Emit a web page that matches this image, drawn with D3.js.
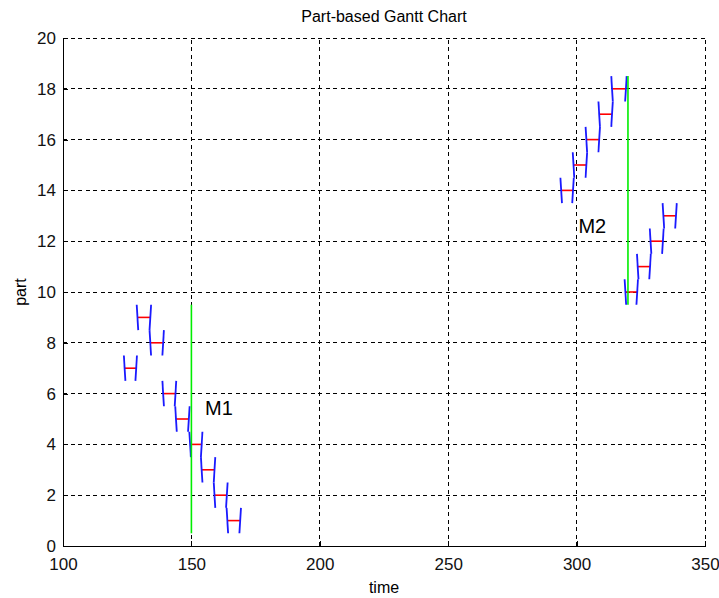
<!DOCTYPE html>
<html>
<head>
<meta charset="utf-8">
<script src="https://cdn.jsdelivr.net/npm/d3@7"></script>
<style>
  html, body { margin: 0; padding: 0; background: #fff; }
  svg { display: block; font-family: "Liberation Sans", Arial, sans-serif; }
</style>
</head>
<body>
<svg id="chart" width="719" height="598"></svg>
<script>
// ---- data ----
const opParts  = [7, 9, 8, 6, 5, 4, 3, 2, 1, 14, 15, 16, 17, 18, 10, 11, 12, 13];
const opStarts = [124, 129, 134, 139, 144, 149.5, 154, 159, 164, 294, 298.8, 303.8, 308.8, 313.8, 319, 323.8, 328.8, 333.8];
const opEnds   = [128.5, 134, 139, 143.8, 149, 154, 159, 163.8, 169, 298.6, 303.8, 308.8, 313.8, 319.2, 323.6, 328.6, 333.6, 338.7];

const machineNames = ["M1", "M2"];
const machineTimes = [150, 320];
const machineLow   = [0.5, 9.5];
const machineHigh  = [9.5, 18.5];
const labelTimes   = [155.3, 300.7];
const labelParts   = [5.45, 12.6];

const xTicks = [100, 150, 200, 250, 300, 350];
const yTicks = [0, 2, 4, 6, 8, 10, 12, 14, 16, 18, 20];

const titleText = "Part-based Gantt Chart";
const xLabel = "time";
const yLabel = "part";

// ---- layout ----
const W = 719, H = 598;
const m = { left: 63, right: 14, top: 38, bottom: 52 };
const svg = d3.select("#chart");
const x = d3.scaleLinear().domain([100, 350]).range([m.left, W - m.right]);
const y = d3.scaleLinear().domain([0, 20]).range([H - m.bottom, m.top]);

const g = svg.append("g");

// grid
g.append("g").selectAll("line").data(xTicks.slice(1)).join("line")
  .attr("x1", d => x(d)).attr("x2", d => x(d))
  .attr("y1", y(0)).attr("y2", y(20))
  .attr("stroke", "#000").attr("stroke-width", 1)
  .attr("stroke-dasharray", "4,3.5").attr("shape-rendering", "crispEdges");
g.append("g").selectAll("line").data(yTicks.slice(1)).join("line")
  .attr("x1", x(100)).attr("x2", x(350))
  .attr("y1", d => y(d)).attr("y2", d => y(d))
  .attr("stroke", "#000").attr("stroke-width", 1)
  .attr("stroke-dasharray", "4,3.5").attr("shape-rendering", "crispEdges");

// axes
const xAxis = d3.axisBottom(x).tickValues(xTicks).tickSizeInner(-5).tickSizeOuter(0).tickPadding(12);
const yAxis = d3.axisLeft(y).tickValues(yTicks).tickSizeInner(-5).tickSizeOuter(0).tickPadding(7);
const gx = svg.append("g").attr("transform", `translate(0,${y(0)})`).call(xAxis);
const gy = svg.append("g").attr("transform", `translate(${x(100)},0)`).call(yAxis);
[gx, gy].forEach(a => {
  a.selectAll("path, line").attr("stroke", "#000").attr("shape-rendering", "crispEdges");
  a.selectAll("text").attr("font-size", 17).attr("fill", "#111")
    .attr("font-family", "'Liberation Sans', Arial, sans-serif");
});

// operations
const ops = opParts.map((p, i) => ({ p, s: opStarts[i], e: opEnds[i] }));
const d = 0.3;
const marks = svg.append("g");
marks.selectAll("line.op").data(ops).join("line").attr("class", "op")
  .attr("x1", o => x(o.s)).attr("x2", o => x(o.e))
  .attr("y1", o => y(o.p)).attr("y2", o => y(o.p))
  .attr("stroke", "#ff0000").attr("stroke-width", 1.6);
marks.selectAll("line.le").data(ops).join("line").attr("class", "le")
  .attr("x1", o => x(o.s - d)).attr("y1", o => y(o.p + 0.5))
  .attr("x2", o => x(o.s + d)).attr("y2", o => y(o.p - 0.5))
  .attr("stroke", "#1a1aff").attr("stroke-width", 1.8);
marks.selectAll("line.re").data(ops).join("line").attr("class", "re")
  .attr("x1", o => x(o.e + d)).attr("y1", o => y(o.p + 0.5))
  .attr("x2", o => x(o.e - d)).attr("y2", o => y(o.p - 0.5))
  .attr("stroke", "#1a1aff").attr("stroke-width", 1.8);

// machines
marks.selectAll("line.mach").data(machineNames).join("line").attr("class", "mach")
  .attr("x1", (n, i) => x(machineTimes[i])).attr("x2", (n, i) => x(machineTimes[i]))
  .attr("y1", (n, i) => y(machineLow[i])).attr("y2", (n, i) => y(machineHigh[i]))
  .attr("stroke", "#00ee00").attr("stroke-width", 1.6);
marks.selectAll("text.mlab").data(machineNames).join("text").attr("class", "mlab")
  .attr("x", (n, i) => x(labelTimes[i])).attr("y", (n, i) => y(labelParts[i]))
  .attr("dy", "0.36em").attr("font-size", 20).attr("fill", "#000")
  .text(n => n);

// titles
svg.append("text").attr("x", (x(100) + x(350)) / 2).attr("y", 22)
  .attr("text-anchor", "middle").attr("font-size", 16).text(titleText);
svg.append("text").attr("x", (x(100) + x(350)) / 2).attr("y", 593)
  .attr("text-anchor", "middle").attr("font-size", 16).text(xLabel);
svg.append("text").attr("transform", `translate(26,${(y(0) + y(20)) / 2}) rotate(-90)`)
  .attr("text-anchor", "middle").attr("font-size", 16).text(yLabel);
</script>
</body>
</html>
